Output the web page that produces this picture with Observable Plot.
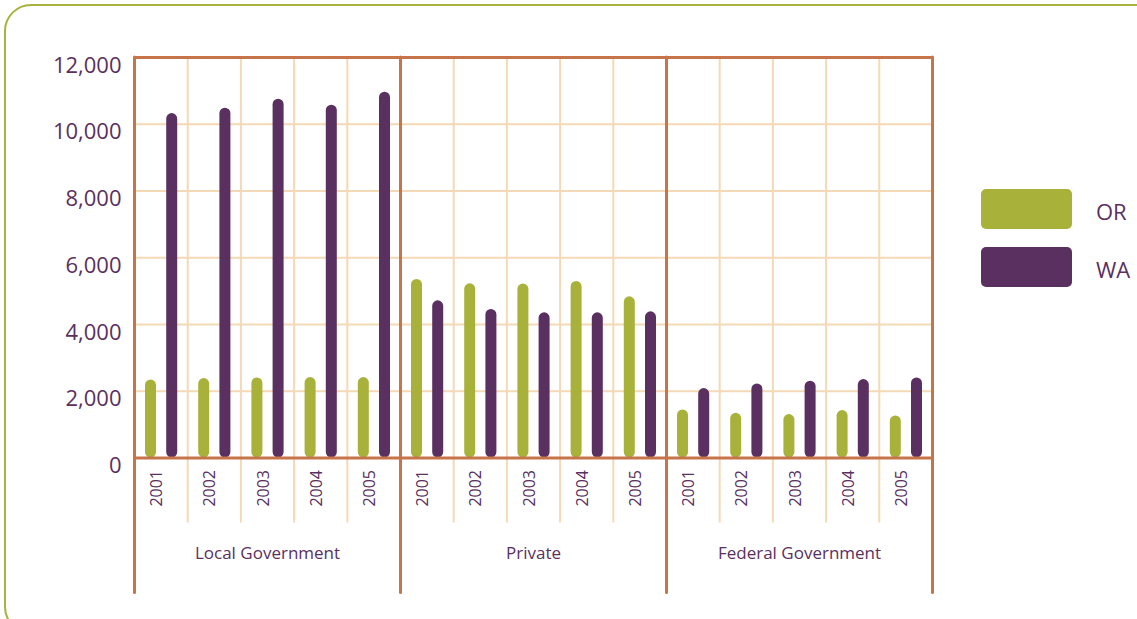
<!DOCTYPE html>
<html>
<head>
<meta charset="utf-8">
<script src="https://cdn.jsdelivr.net/npm/d3@7"></script>
<script src="https://cdn.jsdelivr.net/npm/@observablehq/plot@0.6"></script>
<style>
  html, body { margin: 0; padding: 0; background: #fff; overflow: hidden; }
  #wrap { position: relative; width: 1137px; height: 619px; font-family: "Open Sans", sans-serif; }
  #border { position: absolute; left: 4px; top: 4px; width: 1160px; height: 630px; border: 2px solid #a9b23c; border-radius: 27px; box-sizing: border-box; }
  #chart { position: absolute; left: 0; top: 0; }
  .sw { position: absolute; width: 91px; height: 40px; border-radius: 5px; }
  .lab { position: absolute; font-size: 22px; color: #5a3060; line-height: 40px; }
</style>
</head>
<body>
<div id="wrap">
  <div id="border"></div>
  <div id="chart"></div>
  <div id="legend"></div>
</div>
<script>
// ---- data ----
const groups = ["Local Government", "Private", "Federal Government"];
const years = ["2001", "2002", "2003", "2004", "2005"];
const states = ["OR", "WA"];
const stateColors = ["#a8b23a", "#5a3061"];
const yTicks = [0, 2000, 4000, 6000, 8000, 10000, 12000];

const orLocal   = [2340, 2380, 2400, 2410, 2410];
const waLocal   = [10320, 10480, 10750, 10570, 10960];
const orPrivate = [5350, 5220, 5210, 5290, 4830];
const waPrivate = [4710, 4450, 4350, 4350, 4380];
const orFederal = [1440, 1340, 1300, 1420, 1260];
const waFederal = [2080, 2220, 2300, 2350, 2400];

const series = {
  "Local Government": [orLocal, waLocal],
  "Private": [orPrivate, waPrivate],
  "Federal Government": [orFederal, waFederal]
};
const rows = [];
groups.forEach(g => years.forEach((yr, i) => states.forEach((s, k) => {
  rows.push({group: g, year: yr, state: s, value: series[g][k][i]});
})));
const cells = [];
groups.forEach(g => years.forEach(yr => cells.push({group: g, year: yr})));

// ---- layout / style ----
const W = 1137, H = 619;
const mL = 134, mR = 205, mT = 57, mB = 161.5;
const bw = (W - mL - mR) / groups.length / years.length;
const purple = "#5a3060", orange = "#c8744a", tan = "#f4d9b6";
const barW = 11;

const chart = Plot.plot({
  width: W, height: H,
  marginLeft: mL, marginRight: mR, marginTop: mT, marginBottom: mB,
  style: {fontFamily: "'Open Sans', sans-serif", color: purple, background: "transparent"},
  fx: {domain: groups, padding: 0, round: false, axis: null, label: null},
  x: {domain: years, padding: 0, round: false, axis: null, label: null},
  y: {domain: [0, 12000], axis: null, label: null},
  marks: [
    Plot.ruleY(yTicks.slice(1, -1), {stroke: tan, strokeWidth: 2}),
    Plot.ruleX(cells.filter(d => d.year !== years[0]), {fx: "group", x: "year", dx: -bw / 2, stroke: tan, strokeWidth: 2, insetBottom: -65}),
    Plot.barY(rows.filter(d => d.state === "OR"), {fx: "group", x: "year", y: "value", fill: stateColors[0], insetLeft: 16.5 - barW / 2, insetRight: bw - 16.5 - barW / 2, rx: barW / 2}),
    Plot.barY(rows.filter(d => d.state === "WA"), {fx: "group", x: "year", y: "value", fill: stateColors[1], insetLeft: 37.7 - barW / 2, insetRight: bw - 37.7 - barW / 2, rx: barW / 2}),
    Plot.ruleY([0, 12000], {stroke: orange, strokeWidth: 3}),
    Plot.ruleX(cells.filter(d => d.year === years[0]), {fx: "group", x: "year", dx: -bw / 2, stroke: orange, strokeWidth: 3, insetBottom: -135, strokeLinecap: "round"}),
    Plot.ruleX(cells.filter(d => d.group === groups[groups.length - 1] && d.year === years[years.length - 1]), {fx: "group", x: "year", dx: bw / 2, stroke: orange, strokeWidth: 3, insetBottom: -135, strokeLinecap: "round"}),
    Plot.axisY({ticks: yTicks, tickFormat: d3.format(","), tickSize: 0, tickPadding: 13, fontSize: 22, dy: 8, fill: purple, label: null}),
    Plot.axisX({tickRotate: -90, tickSize: 0, tickPadding: 12, fontSize: 16, dx: -4, fill: purple, label: null}),
    Plot.axisFx({anchor: "bottom", tickSize: 0, tickPadding: 89, fontSize: 17, fill: purple, label: null})
  ]
});
document.getElementById("chart").appendChild(chart);

// ---- legend ----
const leg = document.getElementById("legend");
states.forEach((s, i) => {
  const sw = document.createElement("div");
  sw.className = "sw";
  sw.style.left = "981px";
  sw.style.top = (189 + i * 57.5) + "px";
  sw.style.background = stateColors[i];
  leg.appendChild(sw);
  const lab = document.createElement("div");
  lab.className = "lab";
  lab.style.left = "1096px";
  lab.style.top = (189 + i * 57.5 + 2) + "px";
  lab.textContent = s;
  leg.appendChild(lab);
});
</script>
</body>
</html>
